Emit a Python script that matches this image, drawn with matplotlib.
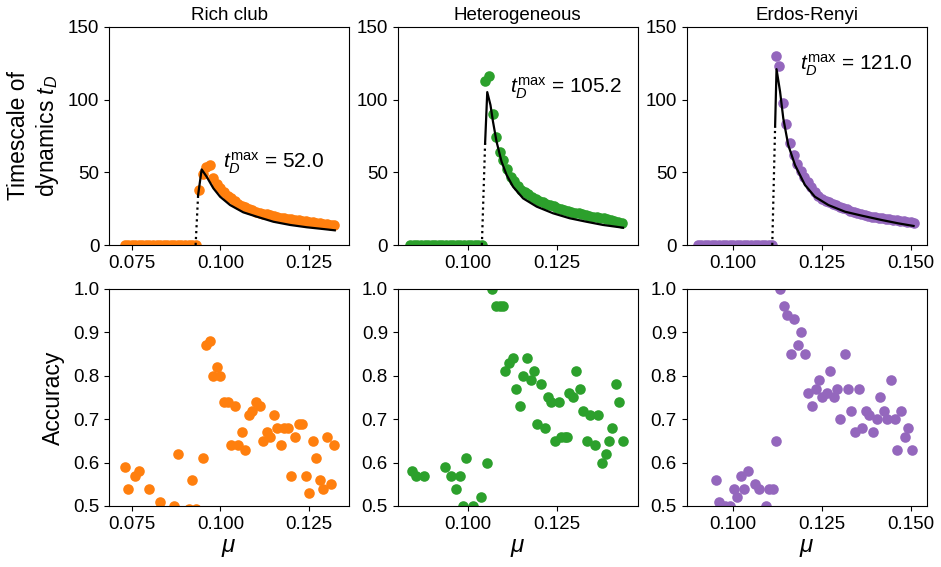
import numpy as np
import matplotlib
matplotlib.use("Agg")
import matplotlib.pyplot as plt
from matplotlib.ticker import MultipleLocator, FormatStrFormatter

plt.rcParams['font.family'] = ['Liberation Sans', 'DejaVu Sans']
plt.rcParams['mathtext.fontset'] = 'custom'
plt.rcParams['mathtext.rm'] = 'Liberation Sans'
plt.rcParams['mathtext.it'] = 'Liberation Sans:italic'

titles = ["Rich club", "Heterogeneous", "Erdos-Renyi"]
colors = ["#ff7f0e", "#2ca02c", "#9467bd"]

# ---- top row: timescale t_D vs mu (scatter = simulation, line = theory)
mu_rich = [0.073, 0.074, 0.075, 0.076, 0.077, 0.078, 0.079, 0.080, 0.081, 0.082,
           0.083, 0.084, 0.085, 0.086, 0.087, 0.088, 0.089, 0.090, 0.091, 0.092,
           0.093, 0.094, 0.095, 0.096, 0.097, 0.098, 0.099, 0.100, 0.101, 0.102,
           0.103, 0.104, 0.105, 0.106, 0.107, 0.108, 0.109, 0.110, 0.111, 0.112,
           0.113, 0.114, 0.115, 0.116, 0.117, 0.118, 0.119, 0.120, 0.121, 0.122,
           0.123, 0.124, 0.125, 0.126, 0.127, 0.128, 0.129, 0.130, 0.131, 0.132]
td_rich = [0] * 21 + [38, 49, 54, 55, 46, 42, 39, 36.5, 34, 32,
                      30, 28.5, 27, 26, 25, 24, 23, 22.3, 21.6, 21,
                      20.4, 19.9, 19.4, 18.9, 18.5, 18.2, 17.8, 17.4, 17.0, 16.6,
                      16.2, 15.9, 15.6, 15.3, 15.0, 14.6, 14.2, 13.9, 13.6]

mu_het = [0.084, 0.085, 0.086, 0.087, 0.088, 0.089, 0.090, 0.091, 0.092, 0.093,
          0.094, 0.095, 0.096, 0.097, 0.098, 0.099, 0.100, 0.101, 0.102, 0.103,
          0.104, 0.105, 0.106, 0.107, 0.108, 0.109, 0.110, 0.111, 0.112, 0.113,
          0.114, 0.115, 0.116, 0.117, 0.118, 0.119, 0.120, 0.121, 0.122, 0.123,
          0.124, 0.125, 0.126, 0.127, 0.128, 0.129, 0.130, 0.131, 0.132, 0.133,
          0.134, 0.135, 0.136, 0.137, 0.138, 0.139, 0.140, 0.141, 0.142, 0.143]
td_het = [0] * 21 + [113, 116, 90, 74, 64, 58.5, 52, 47, 44, 40.5,
                     38, 36.5, 35, 33, 31.5, 30.5, 29.5, 28.3, 27.3, 26.5,
                     25.8, 25, 24.2, 23.5, 23, 22.3, 21.8, 21.2, 20.6, 20.1,
                     19.6, 19.2, 18.7, 18.3, 17.8, 17.2, 16.5, 15.8, 15.0]

mu_er = [0.090, 0.091, 0.092, 0.093, 0.094, 0.095, 0.096, 0.097, 0.098, 0.099,
         0.100, 0.101, 0.102, 0.103, 0.104, 0.105, 0.106, 0.107, 0.108, 0.109,
         0.110, 0.111, 0.112, 0.113, 0.114, 0.115, 0.116, 0.117, 0.118, 0.119,
         0.120, 0.121, 0.122, 0.123, 0.124, 0.125, 0.126, 0.127, 0.128, 0.129,
         0.130, 0.131, 0.132, 0.133, 0.134, 0.135, 0.136, 0.137, 0.138, 0.139,
         0.140, 0.141, 0.142, 0.143, 0.144, 0.145, 0.146, 0.147, 0.148, 0.149,
         0.150, 0.151]
td_er = [0] * 22 + [130, 123, 98, 83, 70, 62, 56, 51, 47, 43.5,
                    40, 36.7, 34, 31.5, 30.5, 29.8, 28.5, 27.3, 26.4, 25.4,
                    24.5, 23.6, 22.8, 22, 21.3, 20.6, 20.1, 19.6, 19.1, 18.7,
                    18.4, 18, 17.6, 17.2, 16.9, 16.6, 16.3, 16, 15.7, 15.4]

# theory curves
th_mu_rich = [0.0937, 0.0947, 0.0961, 0.0980, 0.0999, 0.1027, 0.1064, 0.1102,
              0.1149, 0.1196, 0.1243, 0.1289, 0.1322]
th_td_rich = [34.4, 52.0, 47, 39, 33.2, 27.5, 22.5, 19.5, 16, 13.8, 12.2, 11, 10.1]
th_mu_het = [0.1049, 0.1055, 0.1064, 0.1071, 0.1081, 0.1095, 0.1109, 0.1127,
             0.1155, 0.1193, 0.1239, 0.1285, 0.1332, 0.1378, 0.1434]
th_td_het = [70, 105.2, 96.3, 84.9, 71.1, 57.3, 48.2, 40.1, 32.1, 26.4, 21.8,
             18.4, 16, 13.8, 11.9]
th_mu_er = [0.1118, 0.1122, 0.1132, 0.1141, 0.1155, 0.1174, 0.1202, 0.1230,
            0.1268, 0.1315, 0.1362, 0.1418, 0.1465, 0.1508]
th_td_er = [81.4, 121.0, 105.5, 87.2, 68.8, 55, 41.3, 33.2, 27.5, 22.9, 20.2,
            17.2, 14.9, 13.1]
td_max = [52.0, 105.2, 121.0]
label_pos = [(0.1008, 56), (0.1118, 108), (0.1188, 124)]

# ---- bottom row: accuracy vs mu
acc_mu_rich = [0.073, 0.074, 0.076, 0.077, 0.080, 0.083, 0.087, 0.088, 0.091, 0.092,
               0.093, 0.095, 0.096, 0.097, 0.098, 0.099, 0.100, 0.101, 0.102, 0.103,
               0.104, 0.105, 0.106, 0.107, 0.108, 0.109, 0.110, 0.111, 0.112, 0.113,
               0.114, 0.115, 0.116, 0.117, 0.118, 0.119, 0.120, 0.121, 0.122, 0.123,
               0.124, 0.125, 0.126, 0.127, 0.128, 0.129, 0.130, 0.131, 0.132]
acc_rich = [0.59, 0.54, 0.57, 0.58, 0.54, 0.51, 0.50, 0.62, 0.492, 0.56,
            0.492, 0.61, 0.87, 0.88, 0.80, 0.82, 0.80, 0.74, 0.74, 0.64,
            0.73, 0.64, 0.67, 0.63, 0.71, 0.72, 0.74, 0.73, 0.65, 0.67,
            0.66, 0.71, 0.68, 0.64, 0.68, 0.68, 0.57, 0.66, 0.69, 0.69,
            0.57, 0.53, 0.65, 0.61, 0.56, 0.54, 0.66, 0.55, 0.64]

acc_mu_het = [0.0844, 0.0856, 0.0878, 0.0937, 0.0955, 0.0967, 0.0979, 0.0988, 0.0997, 0.1016,
              0.1037, 0.1055, 0.1067, 0.1079, 0.1090, 0.1099, 0.1104, 0.1116, 0.1127, 0.1135,
              0.1146, 0.1155, 0.1166, 0.1176, 0.1185, 0.1195, 0.1204, 0.1216, 0.1225, 0.1234,
              0.1245, 0.1256, 0.1262, 0.1271, 0.1278, 0.1283, 0.1293, 0.1304, 0.1313, 0.1322,
              0.1334, 0.1343, 0.1355, 0.1364, 0.1375, 0.1386, 0.1395, 0.1404, 0.1414, 0.1423,
              0.1434]
acc_het = [0.58, 0.57, 0.57, 0.59, 0.57, 0.54, 0.57, 0.50, 0.61, 0.50,
           0.52, 0.60, 1.00, 0.96, 0.96, 0.96, 0.81, 0.83, 0.84, 0.77,
           0.73, 0.80, 0.84, 0.79, 0.81, 0.69, 0.78, 0.68, 0.75, 0.74,
           0.65, 0.74, 0.66, 0.66, 0.66, 0.76, 0.75, 0.81, 0.77, 0.72,
           0.65, 0.71, 0.64, 0.71, 0.60, 0.62, 0.65, 0.68, 0.78, 0.74,
           0.65]

acc_mu_er = [0.0951, 0.0961, 0.0977, 0.0991, 0.1002, 0.1011, 0.1022, 0.1031, 0.1042, 0.1061,
             0.1072, 0.1091, 0.1101, 0.1113, 0.1120, 0.1131, 0.1143, 0.1152, 0.1162, 0.1172,
             0.1183, 0.1192, 0.1202, 0.1211, 0.1222, 0.1232, 0.1242, 0.1251, 0.1263, 0.1272,
             0.1283, 0.1293, 0.1302, 0.1314, 0.1324, 0.1333, 0.1342, 0.1353, 0.1364, 0.1373,
             0.1383, 0.1394, 0.1404, 0.1413, 0.1424, 0.1432, 0.1444, 0.1455, 0.1462, 0.1474,
             0.1483, 0.1492, 0.1504]
acc_er = [0.56, 0.51, 0.50, 0.50, 0.54, 0.52, 0.57, 0.54, 0.58, 0.55,
          0.54, 0.50, 0.54, 0.54, 0.65, 1.00, 0.96, 0.94, 0.85, 0.93,
          0.87, 0.90, 0.85, 0.76, 0.73, 0.77, 0.79, 0.75, 0.76, 0.81,
          0.75, 0.77, 0.70, 0.85, 0.77, 0.72, 0.67, 0.77, 0.68, 0.72,
          0.71, 0.67, 0.70, 0.75, 0.72, 0.70, 0.79, 0.70, 0.63, 0.72,
          0.66, 0.68, 0.63]

top_mu = [mu_rich, mu_het, mu_er]
top_td = [td_rich, td_het, td_er]
th_mu = [th_mu_rich, th_mu_het, th_mu_er]
th_td = [th_td_rich, th_td_het, th_td_er]
bot_mu = [acc_mu_rich, acc_mu_het, acc_mu_er]
bot_acc = [acc_rich, acc_het, acc_er]
xlims = [(0.0686, 0.1362), (0.0805, 0.1475), (0.0869, 0.1545)]

fig = plt.figure(figsize=(9.41, 5.67), dpi=100)
lefts = [109 / 941, 397.7 / 941, 686.7 / 941]
w = 240 / 941

for i in range(3):
    ax = fig.add_axes([lefts[i], 0.5679, w, 0.3845])
    ax.scatter(top_mu[i], top_td[i], s=58, color=colors[i], linewidths=0, zorder=2)
    ax.plot(th_mu[i], th_td[i], color='black', lw=1.6, zorder=3)
    # dotted jump from last zero point to start of the theory line
    nz = top_td[i].index(next(v for v in top_td[i] if v > 0)) - 1
    ax.plot([top_mu[i][nz], th_mu[i][0]], [0, th_td[i][0]], color='black', ls=':', lw=1.6, zorder=3)
    ax.text(label_pos[i][0], label_pos[i][1], r'$t_D^{\max}$ = %.1f' % td_max[i],
            fontsize=15, ha='left', va='center')
    ax.set_xlim(*xlims[i])
    ax.set_ylim(0, 150)
    ax.set_yticks([0, 50, 100, 150])
    ax.xaxis.set_major_locator(MultipleLocator(0.025))
    ax.xaxis.set_major_formatter(FormatStrFormatter('%.3f'))
    ax.tick_params(labelsize=13.5)
    ax.set_title(titles[i], fontsize=13.5, pad=5)
    if i == 0:
        ax.set_ylabel('Timescale of\ndynamics $t_D$', fontsize=16.5, labelpad=5)

    axb = fig.add_axes([lefts[i], 0.1076, w, 0.3827])
    axb.scatter(bot_mu[i], bot_acc[i], s=58, color=colors[i], linewidths=0, zorder=2)
    axb.set_xlim(*xlims[i])
    axb.set_ylim(0.5, 1.0)
    axb.set_yticks([0.5, 0.6, 0.7, 0.8, 0.9, 1.0])
    axb.xaxis.set_major_locator(MultipleLocator(0.025))
    axb.xaxis.set_major_formatter(FormatStrFormatter('%.3f'))
    axb.tick_params(labelsize=13.5)
    axb.set_xlabel(r'$\mu$', fontsize=17.5, labelpad=3)
    if i == 0:
        axb.set_ylabel('Accuracy', fontsize=16.5, labelpad=6)

fig.savefig('out.png', dpi=100)
